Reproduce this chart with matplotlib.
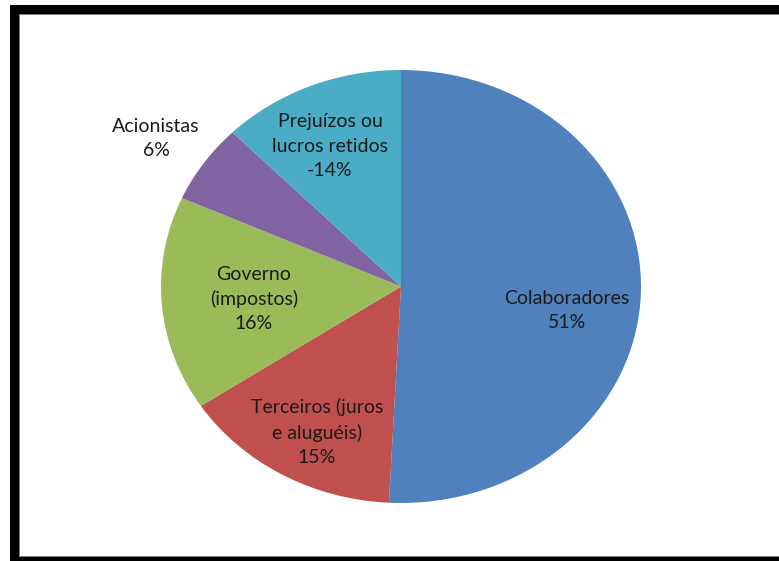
import matplotlib
matplotlib.use("Agg")
import matplotlib.pyplot as plt
from matplotlib.patches import Rectangle

# Data
categories = ["Colaboradores", "Terceiros (juros\ne aluguéis)", "Governo\n(impostos)", "Acionistas", "Prejuízos ou\nlucros retidos"]
shares = [50.8, 14.9, 16.0, 5.9, 12.4]          # slice sizes
pct_labels = ["51%", "15%", "16%", "6%", "-14%"]  # labels as printed
colors = ["#4F81BD", "#C0504D", "#9BBB59", "#8064A2", "#4BACC6"]

W, H = 779, 561
fig = plt.figure(figsize=(W / 100, H / 100), dpi=100)
fig.patch.set_facecolor("white")

# frame
bg = fig.add_axes([0, 0, 1, 1], zorder=0)
bg.set_xlim(0, W)
bg.set_ylim(H, 0)
bg.axis("off")
for (x0, y0, x1, y1, c) in [
    (10, 5, W, 14, "black"), (19, 14, W, 15, "#808080"),
    (10, 5, 19, H, "black"), (19, 14, 20, 557, "#808080"),
    (10, 557, W, H, "black"), (19, 556, W, 557, "#808080"),
]:
    bg.add_patch(Rectangle((x0, y0), x1 - x0, y1 - y0, facecolor=c, edgecolor="none"))

# pie axes (ellipse)
cx, cy, rx, ry = 401, 286.5, 240, 216.5
ax = fig.add_axes([(cx - rx) / W, 1 - (cy + ry) / H, 2 * rx / W, 2 * ry / H], zorder=1)
ax.pie(shares, colors=colors, startangle=90, counterclock=False,
       wedgeprops=dict(linewidth=0))
ax.set_aspect("auto")
ax.set_xlim(-1, 1)
ax.set_ylim(-1, 1)
ax.axis("off")

# label layout (pixel centres)
label_pos = [(567, 311), (317, 432), (254, 299), (156, 139), (330, 146)]
for cat, pct, (px, py) in zip(categories, pct_labels, label_pos):
    ax.text((px - cx) / rx, (cy - py) / ry, f"{cat}\n{pct}", ha="center", va="center",
            fontsize=14, family=["Lato", "DejaVu Sans"], color="#1a1a1a",
            linespacing=1.5)

fig.savefig("out.png", dpi=100)
